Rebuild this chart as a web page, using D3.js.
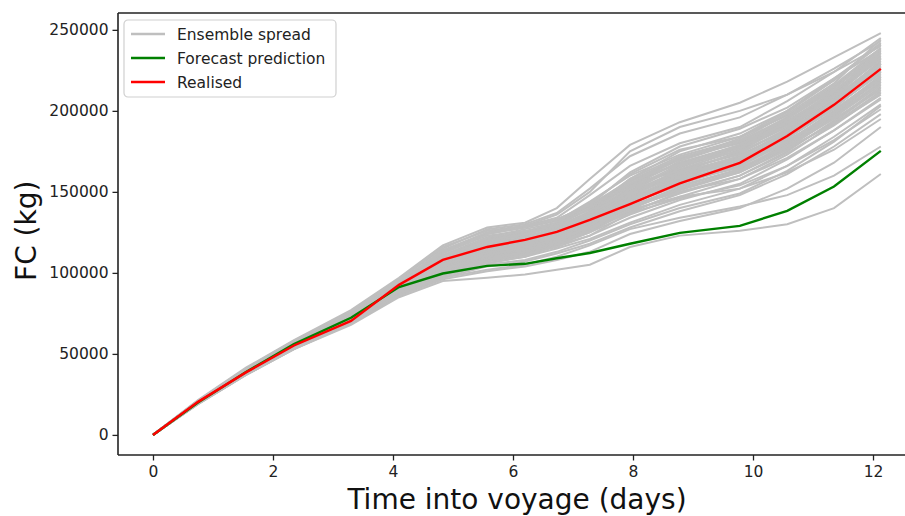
<!DOCTYPE html>
<html>
<head>
<meta charset="utf-8">
<script src="https://cdn.jsdelivr.net/npm/d3@7"></script>
<style>
  body { margin: 0; background: #fff; }
  svg { display: block; font-family: "DejaVu Sans", sans-serif; }
</style>
</head>
<body>
<div id="chart"></div>
<script>
// time points (days) shared by every run
const days = [0, 0.75, 1.55, 2.35, 3.3, 4.1, 4.83, 5.57, 6.2, 6.73, 7.28, 7.95, 8.78, 9.78, 10.57, 11.35, 12.13];

const forecast = [0, 20000, 38800, 56000, 72300, 91300, 99600, 104300, 105600, 109000, 112300, 118000, 124700, 129000, 138300, 153300, 175300];
const realised = [0, 20400, 38600, 55200, 70400, 92600, 108000, 116000, 120400, 125300, 132700, 142500, 155200, 167900, 184500, 203700, 225900];

// ensemble members
const ensemble = [
  [0, 21500, 41500, 58500, 77000, 97000, 117000, 128000, 131000, 140000, 158000, 179000, 193000, 205000, 218000, 233000, 248000],
  [0, 21000, 41000, 58000, 76000, 96000, 115000, 127000, 130000, 137000, 152000, 172000, 186000, 196000, 210000, 226000, 243000],
  [0, 21000, 40500, 57500, 75000, 95000, 113000, 125000, 129000, 134000, 148000, 166000, 180000, 190000, 206000, 224000, 245000],
  [0, 20800, 40000, 57000, 74500, 94000, 112000, 124000, 128000, 132000, 144000, 160000, 173000, 184000, 200000, 220000, 241000],
  [0, 20500, 40000, 57000, 74000, 93500, 111000, 122000, 127000, 131000, 141000, 157000, 170000, 181000, 196000, 215000, 238000],
  [0, 20500, 39500, 56500, 73500, 93000, 110000, 121000, 125000, 130000, 139000, 155000, 168000, 179000, 193000, 212000, 236000],
  [0, 20300, 39500, 56000, 73000, 92500, 109000, 120000, 124000, 129000, 137000, 152000, 165000, 177000, 191000, 209000, 233000],
  [0, 20200, 39000, 56000, 72500, 92000, 108000, 118000, 122000, 127000, 135000, 150000, 163000, 174000, 189000, 207000, 231000],
  [0, 20000, 39000, 55500, 72000, 91500, 107000, 117000, 121000, 126000, 134000, 148000, 161000, 172000, 187000, 206000, 229000],
  [0, 20000, 38500, 55500, 72000, 91000, 106000, 116000, 120000, 125000, 133000, 146000, 159000, 170000, 185000, 204000, 227000],
  [0, 20000, 38500, 55000, 71500, 90500, 105000, 115000, 119000, 124000, 131000, 144000, 157000, 168000, 183000, 202000, 224000],
  [0, 19800, 38500, 55000, 71000, 90000, 104000, 114000, 118000, 123000, 130000, 143000, 155000, 166000, 181000, 200000, 222000],
  [0, 19800, 38000, 54500, 71000, 89500, 103000, 113000, 117000, 122000, 129000, 141000, 153000, 164000, 179000, 198000, 220000],
  [0, 19600, 38000, 54500, 70500, 89000, 102000, 112000, 116000, 121000, 128000, 140000, 151000, 162000, 177000, 196000, 218000],
  [0, 19500, 38000, 54000, 70000, 88500, 101000, 110000, 114000, 119000, 126000, 138000, 149000, 160000, 175000, 194000, 215000],
  [0, 19500, 37500, 54000, 70000, 88000, 100000, 109000, 113000, 118000, 125000, 136000, 147000, 158000, 173000, 192000, 212000],
  [0, 19400, 37500, 53500, 69500, 87500, 99000, 108000, 112000, 117000, 123000, 134000, 145000, 155000, 170000, 188000, 208000],
  [0, 19300, 37500, 53500, 69000, 87000, 98000, 106000, 110000, 115000, 121000, 131000, 142000, 152000, 166000, 184000, 204000],
  [0, 19200, 37000, 53000, 69000, 86500, 97000, 104000, 107000, 112000, 118000, 128000, 138000, 148000, 161000, 178000, 198000],
  [0, 19000, 37000, 53000, 68500, 86000, 96000, 101000, 104000, 108000, 113000, 124000, 132000, 140000, 152000, 168000, 190000],
  [0, 19000, 37000, 53000, 68000, 85000, 95000, 97000, 99000, 102000, 105000, 116000, 123000, 126000, 130000, 140000, 161000],
  [0, 19200, 37200, 53200, 69000, 86000, 97000, 102000, 105000, 110000, 117000, 127000, 134000, 141000, 148000, 160000, 178000],
  [0, 21200, 41000, 58000, 76000, 96000, 116000, 126000, 129000, 136000, 150000, 175000, 190000, 200000, 210000, 224000, 240000],
  [0, 20500, 40000, 57000, 73000, 91000, 104000, 113000, 117000, 123000, 133000, 150000, 166000, 178000, 195000, 214000, 237000],
  [0, 20000, 39000, 55000, 71000, 89000, 101000, 110000, 114000, 121000, 131000, 147000, 162000, 175000, 192000, 211000, 232000],
  [0, 19700, 38500, 55000, 72000, 92000, 110000, 120000, 123000, 126000, 131000, 141000, 152000, 162000, 176000, 193000, 214000],
  [0, 20200, 39500, 56500, 73000, 93000, 112000, 123000, 126000, 129000, 134000, 143000, 154000, 164000, 180000, 199000, 219000],
  [0, 19500, 38000, 54000, 70000, 88000, 99000, 106000, 110000, 117000, 128000, 145000, 158000, 170000, 186000, 205000, 226000],
  [0, 19800, 38500, 55000, 71500, 90000, 104000, 115000, 120000, 126000, 136000, 153000, 164000, 173000, 186000, 203000, 223000],
  [0, 20800, 40500, 57000, 74000, 94000, 113000, 124000, 128000, 133000, 142000, 155000, 163000, 170000, 182000, 198000, 217000],
  [0, 19400, 37800, 54000, 70000, 87500, 99000, 107000, 111000, 117000, 125000, 139000, 152000, 163000, 178000, 197000, 218000],
  [0, 20000, 39000, 55500, 71500, 90000, 103000, 111000, 115000, 120000, 127000, 137000, 146000, 154000, 166000, 182000, 201000],
  [0, 19600, 38000, 54500, 70500, 89000, 101000, 109000, 113000, 119000, 127000, 139000, 147000, 152000, 162000, 176000, 195000],
  [0, 20300, 39500, 56000, 72500, 91500, 106000, 116000, 120000, 125000, 132000, 145000, 156000, 165000, 177000, 192000, 210000],
  [0, 20700, 40000, 57000, 74000, 93000, 109000, 118000, 122000, 128000, 138000, 158000, 175000, 186000, 200000, 219000, 242000],
  [0, 19900, 38700, 55000, 71000, 89500, 102000, 110000, 114000, 120000, 130000, 149000, 164000, 176000, 190000, 208000, 230000],
  [0, 19300, 37500, 53500, 69500, 87000, 98000, 105000, 108000, 113000, 120000, 130000, 140000, 149000, 163000, 181000, 203000],
  [0, 20400, 39500, 56000, 73000, 92000, 108000, 119000, 123000, 130000, 142000, 162000, 178000, 189000, 202000, 220000, 238000],
  [0, 19600, 38200, 54500, 70500, 88500, 100000, 108000, 112000, 119000, 129000, 146000, 160000, 172000, 187000, 206000, 228000],
  [0, 20100, 39000, 55500, 72000, 90500, 105000, 114000, 118000, 124000, 133000, 147000, 158000, 167000, 180000, 196000, 216000],
  [0, 20100, 39200, 55800, 72300, 91200, 106500, 117500, 122000, 128000, 138000, 154000, 168000, 178000, 192000, 210000, 232000],
  [0, 19900, 38800, 55200, 71500, 90200, 104500, 114500, 119000, 125000, 135000, 151000, 166000, 177000, 191000, 209000, 229000],
  [0, 20300, 39600, 56300, 72800, 91800, 107500, 118500, 123500, 129000, 140000, 157000, 171000, 180000, 194000, 211000, 234000],
  [0, 19700, 38300, 54800, 70800, 89300, 102500, 111500, 116000, 122000, 132000, 148000, 160000, 168000, 181000, 198000, 221000],
  [0, 20600, 40100, 56800, 73700, 93200, 110500, 121500, 125500, 131000, 143000, 161000, 176000, 184000, 197000, 216000, 239000],
  [0, 19500, 37900, 54200, 70300, 88200, 100500, 108500, 112500, 118000, 126000, 142000, 156000, 166000, 181000, 199000, 221000],
  [0, 20000, 38900, 55400, 71800, 90700, 105500, 116500, 121000, 127000, 136000, 153000, 169000, 181000, 196000, 214000, 236000],
  [0, 19800, 38400, 54900, 71200, 89700, 103500, 112500, 116500, 122000, 129000, 144000, 159000, 171000, 185000, 203000, 225000],
  [0, 20200, 39300, 55900, 72400, 91300, 106000, 115500, 119500, 125000, 134000, 149000, 161000, 169000, 183000, 201000, 220000],
  [0, 20400, 39800, 56400, 73200, 92300, 109500, 120500, 124500, 130000, 140000, 158000, 172000, 182000, 198000, 217000, 244000],
  [0, 19600, 38100, 54400, 70600, 88800, 101500, 110500, 115000, 121000, 131000, 148000, 163000, 174000, 188000, 205000, 226000],
  [0, 19900, 38600, 55100, 71400, 90000, 104000, 113500, 117500, 123000, 131000, 146000, 157000, 165000, 178000, 195000, 213000],
  [0, 20100, 39100, 55600, 72100, 90800, 105000, 114000, 118500, 124000, 134000, 152000, 167000, 179000, 193000, 212000, 235000],
  [0, 19400, 37700, 53800, 69800, 87800, 99500, 107500, 111500, 116000, 123000, 137000, 150000, 160000, 174000, 191000, 211000],
  [0, 20700, 40300, 57200, 74200, 94500, 114000, 125000, 129000, 133000, 142000, 157000, 167000, 175000, 188000, 206000, 227000],
  [0, 20200, 39400, 56200, 72700, 91700, 107000, 117000, 121500, 127000, 137000, 155000, 170000, 183000, 199000, 219000, 241000],
  [0, 19700, 38400, 54700, 70900, 89200, 102000, 111000, 115500, 121000, 128000, 141000, 150000, 158000, 171000, 188000, 207000],
  [0, 20000, 38900, 55300, 71700, 90300, 104500, 115000, 119500, 126000, 137000, 156000, 171000, 181000, 195000, 213000, 233000],
  [0, 20500, 39900, 56700, 73400, 92700, 110000, 120000, 124000, 129000, 137000, 150000, 162000, 172000, 187000, 206000, 229000],
  [0, 19500, 38000, 54300, 70400, 88400, 100000, 108500, 113000, 119000, 129000, 145000, 157000, 167000, 183000, 202000, 224000]
];

const xTicks = [0, 2, 4, 6, 8, 10, 12];
const yTicks = [0, 50000, 100000, 150000, 200000, 250000];
const legendItems = [
  { label: "Ensemble spread", color: "#bfbfbf" },
  { label: "Forecast prediction", color: "green" },
  { label: "Realised", color: "red" }
];

const width = 905, height = 516,
  margin = ({ top: 13, bottom: 61, left: 118 });

const svg = d3.select("#chart")
  .append("svg")
  .attr("width", width)
  .attr("height", height);

// matplotlib-style 5% padding around the data; the right edge runs off the picture
const xPad = (d3.max(days) - d3.min(days)) * 0.05;
const x = d3.scaleLinear()
  .domain([d3.min(days) - xPad, d3.max(days) + xPad])
  .range([116.6, 917.2]);

const y = d3.scaleLinear()
  .domain([-12400, 260400])
  .range([height - margin.bottom, margin.top]);

const line = d3.line()
  .x((d, i) => x(days[i]))
  .y(d => y(d));

svg.append("g")
  .selectAll("path")
  .data(ensemble)
  .join("path")
  .attr("d", line)
  .attr("fill", "none")
  .attr("stroke", "#bfbfbf")
  .attr("stroke-width", 2);

svg.append("path")
  .attr("d", line(forecast))
  .attr("fill", "none")
  .attr("stroke", "green")
  .attr("stroke-width", 2.4);

svg.append("path")
  .attr("d", line(realised))
  .attr("fill", "none")
  .attr("stroke", "red")
  .attr("stroke-width", 2.4);

// axes
const xAxis = svg.append("g")
  .attr("transform", `translate(0,${height - margin.bottom})`)
  .call(d3.axisBottom(x).tickValues(xTicks).tickSize(5.5).tickPadding(5));

const yAxis = svg.append("g")
  .attr("transform", `translate(${margin.left},0)`)
  .call(d3.axisLeft(y).tickValues(yTicks).tickFormat(d3.format("d")).tickSize(5.5).tickPadding(4));

for (const ax of [xAxis, yAxis]) {
  ax.select(".domain").remove();
  ax.selectAll(".tick line").attr("stroke", "#222").attr("stroke-width", 1.3);
  ax.selectAll(".tick text")
    .attr("fill", "#222")
    .style("font-size", "15.5px")
    .style("font-family", "DejaVu Sans");
}

// frame
svg.append("line")
  .attr("x1", margin.left).attr("x2", width)
  .attr("y1", margin.top).attr("y2", margin.top)
  .attr("stroke", "#222").attr("stroke-width", 1.6);
svg.append("line")
  .attr("x1", margin.left).attr("x2", width)
  .attr("y1", height - margin.bottom).attr("y2", height - margin.bottom)
  .attr("stroke", "#222").attr("stroke-width", 1.6);
svg.append("line")
  .attr("x1", margin.left).attr("x2", margin.left)
  .attr("y1", margin.top).attr("y2", height - margin.bottom)
  .attr("stroke", "#222").attr("stroke-width", 1.6);

// axis titles
svg.append("text")
  .attr("x", 517)
  .attr("y", 509)
  .attr("text-anchor", "middle")
  .style("font-size", "28px")
  .attr("fill", "#111")
  .text("Time into voyage (days)");

svg.append("text")
  .attr("transform", `translate(36,${y(126000)}) rotate(-90)`)
  .attr("text-anchor", "middle")
  .style("font-size", "28px")
  .attr("fill", "#111")
  .text("FC (kg)");

// legend
const legend = svg.append("g")
  .attr("transform", "translate(124,20)");

legend.append("rect")
  .attr("width", 212)
  .attr("height", 77)
  .attr("rx", 4)
  .attr("fill", "#fff")
  .attr("fill-opacity", 0.85)
  .attr("stroke", "#d0d0d0")
  .attr("stroke-width", 1.2);

const item = legend.selectAll("g.item")
  .data(legendItems)
  .join("g")
  .attr("class", "item")
  .attr("transform", (d, i) => `translate(0,${14 + i * 24})`);

item.append("line")
  .attr("x1", 7).attr("x2", 41)
  .attr("stroke", d => d.color)
  .attr("stroke-width", 2.4);

item.append("text")
  .attr("x", 53)
  .attr("dy", "0.36em")
  .style("font-size", "15.5px")
  .attr("fill", "#222")
  .text(d => d.label);
</script>
</body>
</html>
